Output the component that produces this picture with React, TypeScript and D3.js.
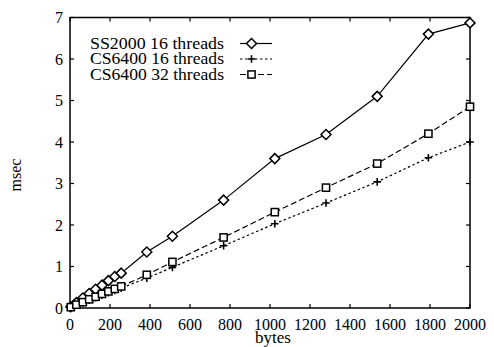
import React from "react";
import * as d3 from "d3";

const bytes = [4, 32, 64, 96, 128, 160, 192, 224, 256, 384, 512, 768, 1024, 1280, 1536, 1792, 2000];
const ss2000_16 = [0.03, 0.13, 0.24, 0.35, 0.45, 0.55, 0.66, 0.76, 0.84, 1.35, 1.73, 2.6, 3.6, 4.18, 5.1, 6.6, 6.87];
const cs6400_16 = [0.02, 0.07, 0.13, 0.19, 0.25, 0.31, 0.37, 0.42, 0.48, 0.72, 0.98, 1.5, 2.03, 2.53, 3.04, 3.62, 4.0];
const cs6400_32 = [0.02, 0.08, 0.14, 0.21, 0.27, 0.34, 0.4, 0.46, 0.52, 0.8, 1.11, 1.7, 2.31, 2.9, 3.48, 4.2, 4.85];
const xTicks = [0, 200, 400, 600, 800, 1000, 1200, 1400, 1600, 1800, 2000];
const yTicks = [0, 1, 2, 3, 4, 5, 6, 7];
const seriesNames = ["SS2000 16 threads", "CS6400 16 threads", "CS6400 32 threads"];

const W = 494, H = 347;
const L = 70, R = 470, T = 17.5, B = 308;

export default function App() {
  const x = d3.scaleLinear().domain([0, 2000]).range([L, R]);
  const y = d3.scaleLinear().domain([0, 7]).range([B, T]);
  const font = "'Liberation Serif', 'Times New Roman', serif";

  const series = [
    { name: seriesNames[0], vals: ss2000_16, dash: "", marker: "diamond" },
    { name: seriesNames[1], vals: cs6400_16, dash: "2.5,2.5", marker: "plus" },
    { name: seriesNames[2], vals: cs6400_32, dash: "6,3", marker: "square" },
  ];

  const marker = (m: string, cx: number, cy: number, key: any) => {
    if (m === "diamond") {
      const r = 5;
      return <path key={key} d={`M${cx - r},${cy}L${cx},${cy - r}L${cx + r},${cy}L${cx},${cy + r}Z`} fill="white" stroke="black" strokeWidth={1.5} />;
    }
    if (m === "square") {
      const r = 3.6;
      return <rect key={key} x={cx - r} y={cy - r} width={2 * r} height={2 * r} fill="white" stroke="black" strokeWidth={1.5} />;
    }
    const r = 3.8;
    return <path key={key} d={`M${cx - r},${cy}H${cx + r}M${cx},${cy - r}V${cy + r}`} stroke="black" strokeWidth={1.6} />;
  };

  const line = d3.line<number>().x((_, i) => x(bytes[i])).y((v) => y(v));
  const tickLen = 4;

  return (
    <svg width={W} height={H} style={{ position: "absolute", left: 0, top: 0, background: "white" }} fontFamily={font}>
      <rect x={0} y={0} width={W} height={H} fill="white" />
      <rect x={L} y={T} width={R - L} height={B - T} fill="none" stroke="black" strokeWidth={1.5} />
      {xTicks.map((t) => (
        <g key={"x" + t}>
          <line x1={x(t)} x2={x(t)} y1={B} y2={B - tickLen} stroke="black" strokeWidth={1.2} />
          <line x1={x(t)} x2={x(t)} y1={T} y2={T + tickLen} stroke="black" strokeWidth={1.2} />
          <text x={x(t)} y={B + 22} fontSize={16} textAnchor="middle">{t}</text>
        </g>
      ))}
      {yTicks.map((t) => (
        <g key={"y" + t}>
          <line x1={L} x2={L + tickLen} y1={y(t)} y2={y(t)} stroke="black" strokeWidth={1.2} />
          <line x1={R} x2={R - tickLen} y1={y(t)} y2={y(t)} stroke="black" strokeWidth={1.2} />
          <text x={L - 7} y={y(t) + 5.5} fontSize={16} textAnchor="end">{t}</text>
        </g>
      ))}
      <text x={273} y={342.5} fontSize={17} textAnchor="middle">bytes</text>
      <text transform={`translate(21,175) rotate(-90)`} fontSize={16} textAnchor="middle">msec</text>
      {series.map((s) => (
        <g key={s.name}>
          <path d={line(s.vals) || ""} fill="none" stroke="black" strokeWidth={1.2} strokeDasharray={s.dash} />
          {s.vals.map((v, i) => marker(s.marker, x(bytes[i]), y(v), i))}
        </g>
      ))}
      {series.map((s, i) => {
        const base = 48.5 + i * 15.5;
        const ly = base - 5;
        return (
          <g key={"lg" + i}>
            <text x={90} y={base} fontSize={16.5} textLength={134} lengthAdjust="spacingAndGlyphs">{s.name}</text>
            <line x1={240} x2={272} y1={ly} y2={ly} stroke="black" strokeWidth={1.2} strokeDasharray={s.dash} />
            {marker(s.marker, 251.5, ly, "m")}
          </g>
        );
      })}
    </svg>
  );
}
